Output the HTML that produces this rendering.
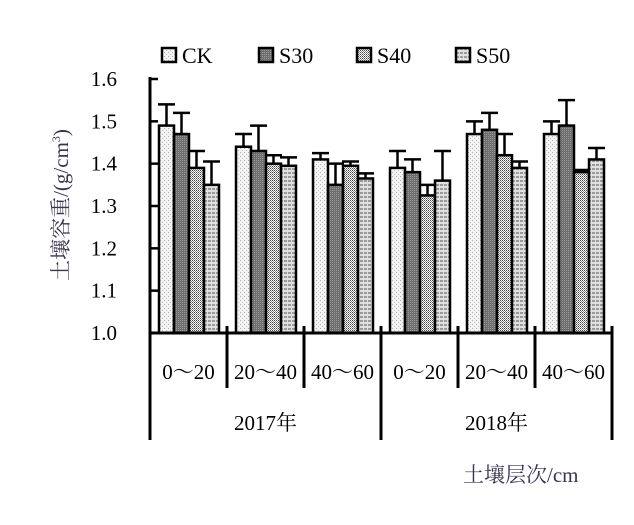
<!DOCTYPE html>
<html><head><meta charset="utf-8"><style>
html,body{margin:0;padding:0;background:#fff;}
svg{display:block;font-family:"Liberation Serif","Noto Serif CJK SC",serif;}
</style></head><body>
<svg id="chart" width="634" height="525" viewBox="0 0 634 525">
<defs>
<pattern id="pCK" width="4" height="4" patternUnits="userSpaceOnUse"><rect width="4" height="4" fill="#f4f4f4"/><rect x="0" y="0" width="1" height="1" fill="#aaa"/><rect x="2" y="2" width="1" height="1" fill="#bbb"/></pattern>
<pattern id="pS30" width="2" height="2" patternUnits="userSpaceOnUse"><rect width="2" height="2" fill="#6e6e6e"/><rect x="0" y="0" width="1" height="1" fill="#999"/></pattern>
<pattern id="pS40" width="2" height="2" patternUnits="userSpaceOnUse"><rect width="2" height="2" fill="#fff"/><rect x="0" y="0" width="1" height="1" fill="#444"/><rect x="1" y="1" width="1" height="1" fill="#888"/></pattern>
<pattern id="pS50" width="4" height="4" patternUnits="userSpaceOnUse"><rect width="4" height="4" fill="#e0e0e0"/><rect x="0" y="0" width="3" height="2" fill="#9a9a9a"/></pattern>
</defs>
<g id="bars"></g>
<g id="axes"></g>
<g id="legend"></g>
<text x="463" y="482" font-size="21" fill="#3c3450">土壤层次/cm</text>
<text transform="translate(68,205) rotate(-90)" text-anchor="middle" font-size="21" fill="#3c3450">土壤容重/(g/cm<tspan font-size="12" dy="-8">3</tspan><tspan dy="8">)</tspan></text>
</svg>
<script>
const series = ["CK","S30","S40","S50"];
const categories = ["0～20","20～40","40～60","0～20","20～40","40～60"];
const years = ["2017年","2018年"];
const yTicks = [1.0,1.1,1.2,1.3,1.4,1.5,1.6];
const ckVals  = [1.49,1.44,1.41,1.39,1.47,1.47];
const ckErr   = [0.05,0.03,0.015,0.04,0.03,0.03];
const s30Vals = [1.47,1.43,1.35,1.38,1.48,1.49];
const s30Err  = [0.05,0.06,0.05,0.03,0.04,0.06];
const s40Vals = [1.39,1.40,1.395,1.325,1.42,1.38];
const s40Err  = [0.04,0.02,0.01,0.025,0.05,0.005];
const s50Vals = [1.35,1.395,1.365,1.36,1.39,1.41];
const s50Err  = [0.055,0.02,0.012,0.07,0.015,0.027];
const vals=[ckVals,s30Vals,s40Vals,s50Vals], errs=[ckErr,s30Err,s40Err,s50Err];
const fills=["url(#pCK)","url(#pS30)","url(#pS40)","url(#pS50)"];
const NS="http://www.w3.org/2000/svg";
const X0=150,X1=612,Y0=333,YTOP=79;
const gw=(X1-X0)/categories.length;
const y=v=>Y0-(v-yTicks[0])/(yTicks[yTicks.length-1]-yTicks[0])*(Y0-YTOP);
function mk(tag,attrs,parent){const e=document.createElementNS(NS,tag);for(const k in attrs)e.setAttribute(k,attrs[k]);parent.appendChild(e);return e;}
const gb=document.getElementById('bars'),ga=document.getElementById('axes'),gl=document.getElementById('legend');
const bw=15,off=9;
for(let s=0;s<series.length;s++){for(let i=0;i<categories.length;i++){
 const bx=X0+i*gw+off+s*bw, v=vals[s][i], et=v+errs[s][i], cx=bx+bw/2;
 const ln=mk('line',{x1:cx,x2:cx,y1:y(v),y2:y(et),stroke:'#000','stroke-width':2.5},gb);
 
 
 const cap=mk('line',{x1:cx-bw/2-1,x2:cx+bw/2+1,y1:y(et),y2:y(et),stroke:'#000','stroke-width':2.5},gb);
 
 
 const r=mk('rect',{x:bx,y:y(v),width:bw,height:Y0-y(v),fill:fills[s],stroke:'#000','stroke-width':2.5},gb);
 
 
}}
const ya=mk('line',{x1:X0,x2:X0,y1:YTOP-2,y2:Y0,stroke:'#000','stroke-width':3},ga);


yTicks.forEach(t=>{
 const tk=mk('line',{x1:X0,x2:X0+8,y1:y(t),y2:y(t),stroke:'#000','stroke-width':2.5},ga);
 
 
 const tx=mk('text',{x:X0-33,y:y(t)+7,'text-anchor':'end','font-size':21},ga);
 tx.textContent=t.toFixed(1);
 
 
});
const xa=mk('line',{x1:X0,x2:X1,y1:Y0,y2:Y0,stroke:'#000','stroke-width':3},ga);


for(let i=0;i<=categories.length;i++){
 const sx=X0+i*gw, long=(i%3===0);
 const l=mk('line',{x1:sx,x2:sx,y1:Y0-7,y2:long?440:388,stroke:'#000','stroke-width':3},ga);
 
 
}
categories.forEach((c,i)=>{
 const t=mk('text',{x:X0+(i+0.5)*gw,y:379,'text-anchor':'middle','font-size':21},ga);
 t.textContent=c;
 
 
});
years.forEach((c,i)=>{
 const t=mk('text',{x:X0+(i*3+1.5)*gw,y:430,'text-anchor':'middle','font-size':21},ga);
 t.textContent=c;
 
 
});
const lx=[162,259,357,456];
series.forEach((s,i)=>{
 const r=mk('rect',{x:lx[i],y:48,width:14,height:14,fill:fills[i],stroke:'#000','stroke-width':2.5},gl);
 
 
 const t=mk('text',{x:lx[i]+20,y:63,'font-size':22},gl);
 t.textContent=s;
 
 
});
</script>
</body></html>
